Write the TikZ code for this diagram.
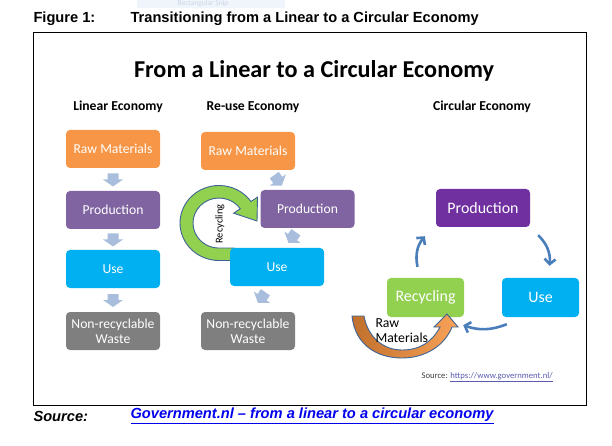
\documentclass[tikz,border=0pt]{standalone}
\usepackage{fontspec}
\setmainfont{Carlito}
\newfontfamily\arialfont{Liberation Sans}
\usetikzlibrary{arrows.meta, positioning, calc}

\begin{document}
\begin{tikzpicture}[
    x=1bp, y=-1bp,
    every node/.style={font=\rmfamily},
]

% ---------------------------------------------------------------- colours
\definecolor{rawcol}{HTML}{F79646}    % raw materials
\definecolor{prodcol}{HTML}{8064A2}   % production, first two columns
\definecolor{circprod}{HTML}{7030A0}  % production, circular column
\definecolor{usecol}{HTML}{00B0F0}
\definecolor{wastecol}{HTML}{7F7F7F}
\definecolor{reccol}{HTML}{92D050}
\definecolor{blockcol}{HTML}{A9BEDD}  % the fat little arrows
\definecolor{flowcol}{HTML}{4A7EBB}   % the thin curved arrows
\definecolor{edgecol}{HTML}{3E6396}
\definecolor{rawdark}{HTML}{C0702C}
\definecolor{rawlight}{HTML}{F9A259}
\definecolor{linkcol}{HTML}{0000EE}
\definecolor{srclink}{HTML}{5A5AB0}
\definecolor{snipfill}{HTML}{F0F5FB}
\definecolor{sniptext}{HTML}{CAD7E6}

\tikzset{
    box/.style={rectangle, rounded corners=4bp, minimum width=94bp,
                minimum height=38bp, inner sep=1bp, text=white, align=center,
                font=\fontsize{13.7}{15}\selectfont},
    rawbox/.style={box, fill=rawcol},
    prodbox/.style={box, fill=prodcol},
    usebox/.style={box, fill=usecol},
    wastebox/.style={box, fill=wastecol},
    circbox/.style={box, minimum width=77bp, minimum height=39bp,
                    font=\fontsize{16}{18}\selectfont},
    colhead/.style={font=\bfseries\fontsize{13.7}{15}\selectfont},
    flow/.style={draw=flowcol, line width=2.6bp,
                 -{Straight Barb[length=5bp, width=11bp]}},
    capfont/.style={anchor=west, font=\arialfont\bfseries\fontsize{14.7}{16}\selectfont},
    blockarrow/.pic={
        \fill[blockcol] (-5.5,-6) -- (5.5,-6) -- (5.5,0) -- (10,0)
            -- (0,7) -- (-10,0) -- (-5.5,0) -- cycle;
    },
}

\useasboundingbox (0,0) rectangle (612,446);

% ================================================================
% pixel grid, y grows downwards
%   linear column   x = 113
%   re-use column   x = 248 .. 308
%   circular        x = 425 .. 541
%   frame           (33,32) to (586,405)
% ================================================================

% the faint snip tab at the very top
\fill[snipfill] (137,-2) rectangle (285,8);
\node[text=sniptext, inner sep=0pt, font=\fontsize{7.5}{8}\selectfont] (snip) at (203,4)
    {Rectangular Snip};

% ---------------------------------------------------------------- caption
\node[capfont] (figlab) at (30,19) {Figure 1:};
\node[capfont] (figtitle) at (127,19) {Transitioning from a Linear to a Circular Economy};

\draw[line width=0.9bp] (33,32) rectangle (586,405);

\node[font=\bfseries\fontsize{24.3}{27}\selectfont] (title) at (314,71)
    {From a Linear to a Circular Economy};

% ----------------------------------------------------------------------
% LINEAR ECONOMY
% ----------------------------------------------------------------------
\node[colhead] (lhead) at (118,107) {Linear Economy};

\node[rawbox]   (lraw)   at (113,149) {Raw Materials};
\node[prodbox]  (lprod)  at (113,210) {Production};
\node[usebox]   (luse)   at (113,269) {Use};
\node[wastebox] (lwaste) at (113,331) {Non-recyclable\\Waste};

\pic at ($(lraw.south)!0.5!(lprod.north)$) {blockarrow};
\pic at ($(lprod.south)!0.5!(luse.north)$) {blockarrow};
\pic at ($(luse.south)!0.5!(lwaste.north)$) {blockarrow};

% ----------------------------------------------------------------------
% RE-USE ECONOMY
% ----------------------------------------------------------------------
\node[colhead] (rhead) at (253,107) {Re-use Economy};

% recycling loop, drawn first so that the boxes sit on its tail
\draw[draw=edgecol, fill=reccol, line width=0.9bp]
    (234,260.5) -- (219,260.5)
    arc[start angle=90, end angle=325, x radius=39, y radius=37.5]
    -- (257.5,197.2) -- (257,221) -- (233.7,213.2) -- (240.3,208.7)
    arc[start angle=325, end angle=90, x radius=26, y radius=25]
    -- (234,248) -- cycle;
\node[rotate=90, font=\fontsize{10.5}{12}\selectfont] (rloop) at (220,224) {Recycling};

\node[rawbox]   (rraw)   at (248,151)   {Raw Materials};
\node[prodbox]  (rprod)  at (307.5,209) {Production};
\node[usebox]   (ruse)   at (277,267)   {Use};
\node[wastebox] (rwaste) at (248,331)   {Non-recyclable\\Waste};

\pic[rotate=35]  at ($(rraw.south east)!0.5!(rprod.north west)$) {blockarrow};
\pic[rotate=-35] at ($(rprod.south)+(-15,9)$) {blockarrow};
\pic[rotate=-35] at ($(ruse.south)+(-15,11)$) {blockarrow};

% ----------------------------------------------------------------------
% CIRCULAR ECONOMY
% ----------------------------------------------------------------------
\node[colhead] (chead) at (482,107) {Circular Economy};

\node[circbox, fill=circprod, minimum width=94bp, minimum height=38bp]
    (cprod) at (483,208) {Production};
\node[circbox, fill=reccol] (crec) at (425.5,297.5) {Recycling};
\node[circbox, fill=usecol] (cuse) at (540.5,297.5) {Use};

\draw[flow] ($(crec.north)+(-8,-11)$) to[bend left=25] ($(cprod.south west)+(-11,9)$);
\draw[flow] ($(cprod.south east)+(8,8)$) to[bend left=25] ($(cuse.north)+(9,-12)$);
\draw[flow] ($(cuse.south west)+(5,7)$) to[bend left=20] ($(crec.south east)+(-1,8)$);

% raw materials feeding the loop
\draw[draw=edgecol, line width=0.9bp, left color=rawdark, right color=rawlight]
    (352,316) .. controls (355,345) and (377,358) .. (402,358)
    .. controls (426,358) and (445,345) .. (452,327)
    -- (458,327) -- (447,314) -- (434,327) -- (440,327)
    .. controls (432,342) and (420,350) .. (402,350)
    .. controls (384,350) and (368,338) .. (364,316) -- cycle;
\node[anchor=west, align=left, font=\fontsize{13.8}{15}\selectfont] (craw) at (372,331)
    {Raw\\Materials};

\node[anchor=west, font=\fontsize{8.7}{10}\selectfont, text=black!75] (csrc) at (418,377)
    {Source: \textcolor{srclink}{\underline{https://www.government.nl/}}};

% ---------------------------------------------------------------- source line
\node[anchor=west, font=\arialfont\bfseries\itshape\fontsize{14.7}{16}\selectfont]
    (srclab) at (30,416) {Source:};
\node[anchor=west, font=\arialfont\bfseries\itshape\fontsize{14.7}{16}\selectfont,
      text=linkcol] (srcref) at (127,416)
    {\underline{Government.nl – from a linear to a circular economy}};

\end{tikzpicture}
\end{document}
